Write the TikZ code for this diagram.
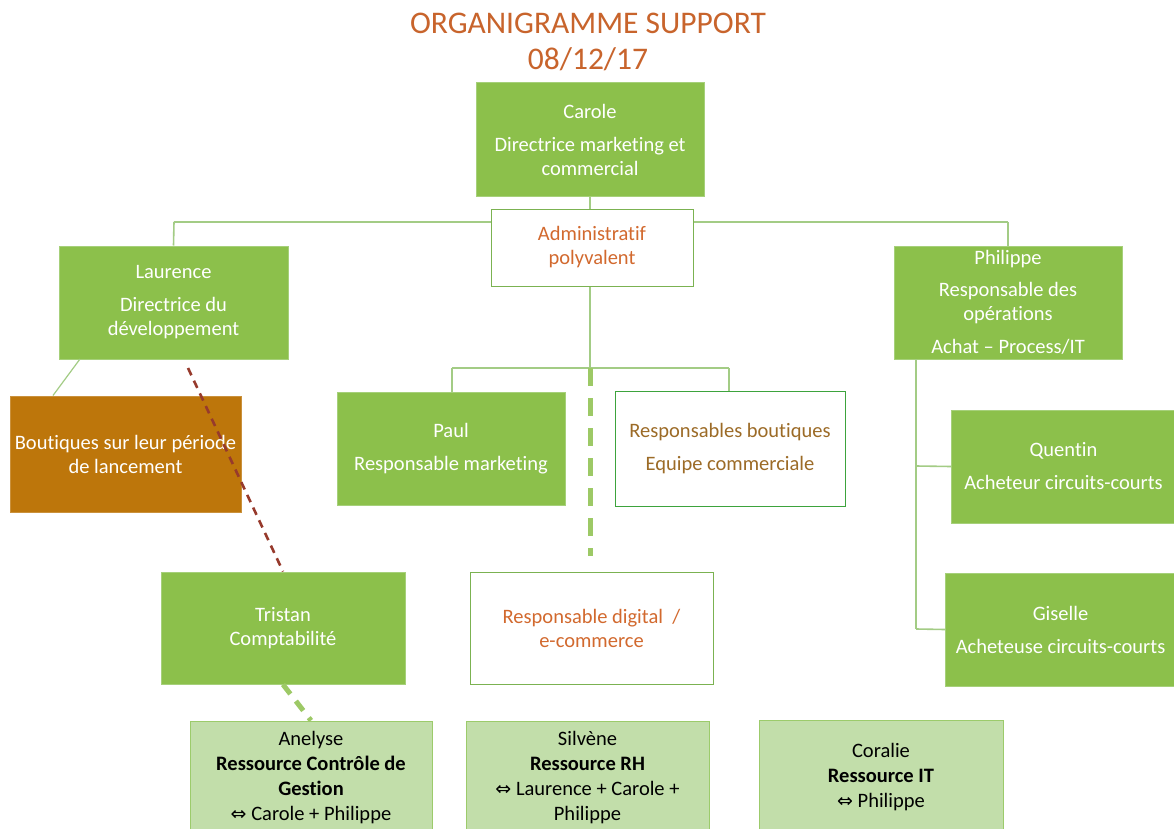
\documentclass[tikz,border=0pt]{standalone}
\usepackage{fontspec}
\setmainfont{Carlito}[Ligatures={NoCommon}]
\newfontfamily\symf{DejaVu Sans}
\definecolor{gfill}{HTML}{8CC04B}
\definecolor{gedge}{HTML}{A6D07A}
\definecolor{lfill}{HTML}{C2DEAA}
\definecolor{ledge}{HTML}{9CCB6B}
\definecolor{conn}{HTML}{A3CC85}
\definecolor{bfill}{HTML}{BD760B}
\definecolor{bdash}{HTML}{973A2C}
\definecolor{otext}{HTML}{D2692E}
\definecolor{ttext}{HTML}{C8642C}
\definecolor{btext}{HTML}{9C6B27}
\definecolor{dgreen}{HTML}{3DA33D}
\definecolor{wedge}{HTML}{7BB251}
\begin{document}
\begin{tikzpicture}[x=1pt,y=-1pt,
  base/.style={draw, line width=1pt, align=center, inner sep=0pt, font=\fontsize{20.5}{24}\selectfont},
  greenbox/.style={base, fill=gfill, draw=gedge, text=white},
  whitebox/.style={base, fill=white, draw=wedge},
  lightbox/.style={base, fill=lfill, draw=ledge, text=black, font=\fontsize{20.5}{25}\selectfont},
  connector/.style={draw=conn, line width=1.6pt},
  gdash/.style={draw=gfill!85!white, line width=5pt, dash pattern=on 18pt off 12pt},
  bdashed/.style={draw=bdash, line width=2.6pt, dash pattern=on 8pt off 6pt},
  sz/.style 2 args={minimum width=#1, minimum height=#2},
  arr/.style={font=\symf\fontsize{19}{25}\selectfont}
]
\useasboundingbox (0,0) rectangle (1174,829);
\fill[white] (0,0) rectangle (1174,829);

% title
\node[font=\fontsize{31.5}{36}\selectfont, text=ttext, align=center] (title) at (588,42) {ORGANIGRAMME SUPPORT\\08/12/17};

% connector points
\coordinate (hl) at (174,222);
\coordinate (hr) at (1008,222);
\coordinate (mid) at (590,368);
\coordinate (ml) at (452,368);
\coordinate (mr) at (729,368);
\coordinate (pv) at (916,359);
\coordinate (pq) at (916,466);
\coordinate (pg) at (916,629);

% boxes
\node[greenbox, sz={228}{113}] (carole) at (590,139.5) {Carole\\[9pt]Directrice marketing et\\commercial};
\node[greenbox, sz={229}{113}] (laurence) at (173.5,302.5) {Laurence\\[9pt]Directrice du\\développement};
\node[greenbox, sz={228}{113}] (philippe) at (1008,302.5) {Philippe\\[8pt]Responsable des\\opérations\\[9pt]Achat -- Process/IT};

\draw[connector] (hl) -- (hr);
\draw[connector] (hl) -- (laurence.north);
\draw[connector] (hr) -- (philippe.north);
\draw[connector] (carole.south) -- (590,222);

\node[whitebox, text=otext, sz={202}{77}] (admin) at (592,247.5) {Administratif\\polyvalent};

\draw[connector] (admin.south -| mid) -- (mid);
\draw[connector] (ml) -- (mr);

\node[greenbox, sz={228}{113}] (paul) at (451,448.5) {Paul\\[9pt]Responsable marketing};
\node[whitebox, draw=dgreen, text=btext, sz={230}{115}] (boutiques) at (730,448.5) {Responsables boutiques\\[9pt]Equipe commerciale};
\draw[connector] (ml) -- (ml |- paul.north);
\draw[connector] (mr) -- (mr |- boutiques.north);

\node[whitebox, text=otext, sz={243}{112}] (digital) at (591.5,628) {Responsable digital~~/\\e-commerce};
\draw[gdash] (mid) -- (590,556);

% Boutiques lancement
\node[base, fill=bfill, draw=bfill!80!white, text=white, sz={231}{116}] (lancement) at (125.5,454) {Boutiques sur leur période\\de lancement};
\draw[connector, line width=1.2pt] (80,359) -- (lancement.north west -| 53,396);

\node[greenbox, sz={244}{112}] (tristan) at (283,628) {Tristan\\Comptabilité};
\draw[bdashed] (188,368) -- (tristan.north);

% Philippe subordinates
\node[greenbox, sz={224}{113}, anchor=west] (quentin) at (951,466.5) {Quentin\\[9pt]Acheteur circuits-courts};
\node[greenbox, sz={230}{113}, anchor=west] (giselle) at (945,629.5) {Giselle\\[9pt]Acheteuse circuits-courts};
\draw[connector] (pv) -- (pg);
\draw[connector] (pq) -- (quentin.west);
\draw[connector] (pg) -- (giselle.west);

% bottom resources
\node[lightbox, sz={242}{114}] (anelyse) at (311,778) {Anelyse\\\textbf{Ressource Contrôle de}\\\textbf{Gestion}\\{\symf\fontsize{19}{25}\selectfont ⇔} Carole + Philippe};
\node[lightbox, sz={243}{114}] (silvene) at (587.5,778) {Silvène\\\textbf{Ressource RH}\\{\symf\fontsize{19}{25}\selectfont ⇔} Laurence + Carole +\\Philippe};
\node[lightbox, sz={244}{114}] (coralie) at (881,777) {Coralie\\\textbf{Ressource IT}\\{\symf\fontsize{19}{25}\selectfont ⇔} Philippe};

\draw[gdash, dash pattern=on 12pt off 9pt] (tristan.south) -- (anelyse.north);
\end{tikzpicture}
\end{document}
